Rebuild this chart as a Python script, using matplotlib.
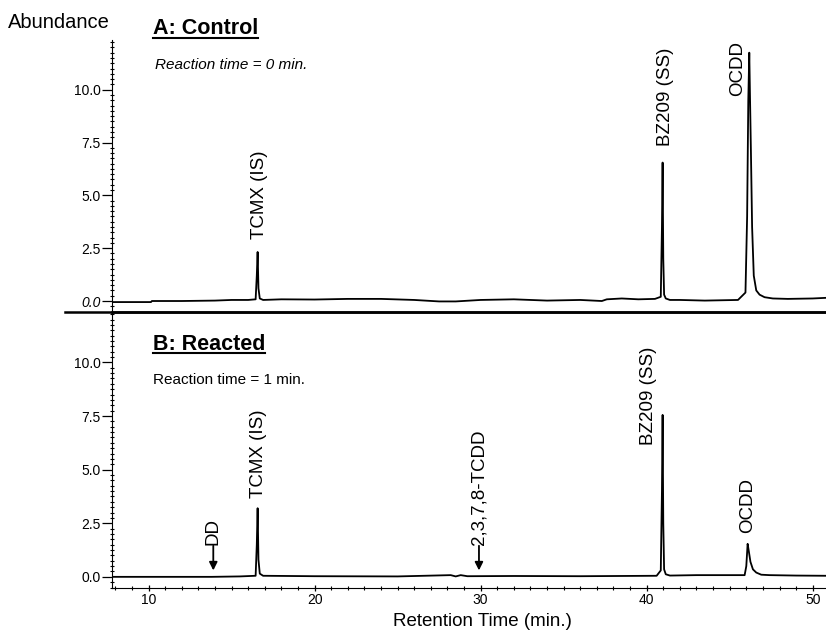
import numpy as np
import matplotlib
matplotlib.use("Agg")
import matplotlib.pyplot as plt
from matplotlib.lines import Line2D
from matplotlib.ticker import MultipleLocator

plt.rcParams['font.family'] = ['Liberation Sans', 'DejaVu Sans']

# chromatogram A (control, 0 min), retention time (min) vs abundance
t_a = [7.85, 10.15, 10.2, 12, 14, 15, 16.0, 16.45, 16.52, 16.57, 16.62, 16.7, 16.9,
       18, 20, 22, 24, 26, 27.5, 28.5, 30, 32, 34, 36, 37.3, 37.6, 38.5, 39.5, 40.5,
       40.85, 40.92, 40.96, 41.0, 41.05, 41.15, 41.4, 42, 43.5, 45.5, 45.95, 46.05,
       46.12, 46.18, 46.22, 46.28, 46.35, 46.45, 46.6, 46.8, 47.1, 47.6, 48.5, 50, 50.8]
y_a = [-0.05, -0.05, 0.0, 0.0, 0.02, 0.05, 0.05, 0.08, 1.2, 2.32, 0.6, 0.12, 0.05,
       0.08, 0.07, 0.1, 0.1, 0.05, -0.02, -0.02, 0.05, 0.08, 0.02, 0.05, 0.0, 0.08,
       0.12, 0.08, 0.1, 0.2, 3.5, 6.55, 2.0, 0.3, 0.12, 0.05, 0.05, 0.02, 0.05, 0.4,
       4.0, 9.5, 11.75, 9.8, 7.0, 3.5, 1.2, 0.5, 0.3, 0.18, 0.12, 0.1, 0.12, 0.15]

# chromatogram B (reacted, 1 min)
t_b = [7.85, 13.8, 15.5, 16.45, 16.52, 16.57, 16.62, 16.7, 16.9, 20, 25, 28.2, 28.5,
       28.8, 29.2, 32, 36, 40.6, 40.85, 40.92, 40.96, 41.0, 41.05, 41.15, 41.4, 43,
       45.9, 46.0, 46.08, 46.15, 46.25, 46.4, 46.6, 46.9, 47.4, 49, 50.8]
y_b = [0.0, 0.0, 0.02, 0.05, 1.5, 3.2, 0.8, 0.15, 0.05, 0.03, 0.02, 0.08, 0.02,
       0.08, 0.03, 0.04, 0.03, 0.05, 0.3, 4.0, 7.55, 2.5, 0.35, 0.12, 0.06, 0.08,
       0.08, 0.5, 1.54, 1.2, 0.7, 0.35, 0.2, 0.1, 0.08, 0.06, 0.05]

# peak labels: (text, x, y bottom)
labels_a = [("TCMX (IS)", 16.7, 2.95), ("BZ209 (SS)", 41.15, 7.35), ("OCDD", 45.5, 9.7)]
labels_b = [("TCMX (IS)", 16.6, 3.7), ("BZ209 (SS)", 40.1, 6.15), ("OCDD", 46.1, 2.05)]
arrows_b = [("DD", 13.9, 1.5), ("2,3,7,8-TCDD", 29.9, 1.5)]

yticks = [0, 2.5, 5, 7.5, 10]
xticks = [10, 20, 30, 40, 50]

W, H = 826, 633
fig = plt.figure(figsize=(W / 100, H / 100), dpi=100)
left = 112 / W
ax_a = fig.add_axes([left, 1 - 312 / H, 1 - left, 272 / H])
ax_b = fig.add_axes([left, 1 - 588 / H, 1 - left, 276 / H])

for ax, t, y in [(ax_a, t_a, y_a), (ax_b, t_b, y_b)]:
    ax.plot(t, y, color='black', lw=1.3)
    ax.set_xlim(7.8, 50.8)
    ax.set_ylim(-0.52, 12.35)
    ax.spines['top'].set_visible(False)
    ax.spines['right'].set_visible(False)
    ax.set_yticks(yticks)
    ax.set_yticklabels(["%.1f" % v for v in yticks])
    ax.yaxis.set_minor_locator(MultipleLocator(0.25))
    ax.xaxis.set_minor_locator(MultipleLocator(1))
    ax.set_xticks(xticks)
    ax.tick_params(axis='y', which='major', length=7, width=0.9, labelsize=10, pad=1)
    ax.tick_params(axis='y', which='minor', length=3, width=0.8, direction='inout')
    ax.tick_params(axis='x', which='major', length=5, width=0.9, labelsize=10, pad=1,
                   direction='inout')
    ax.tick_params(axis='x', which='minor', length=3, width=0.8, direction='inout')
    ax.patch.set_visible(False)

ax_a.spines['bottom'].set_linewidth(1.8)
ax_a.tick_params(axis='x', which='both', bottom=False, labelbottom=False)
ax_b.spines['top'].set_visible(False)
for lbl in ax_a.get_yticklabels()[:1]:
    lbl.set_style('italic')

for txt, x, yb in labels_a:
    ax_a.text(x, yb, txt, rotation=90, ha='center', va='bottom', fontsize=13.5)
for txt, x, yb in labels_b:
    ax_b.text(x, yb, txt, rotation=90, ha='center', va='bottom', fontsize=13.5)
for txt, x, yb in arrows_b:
    ax_b.annotate('', xy=(x, 0.3), xytext=(x, yb - 0.05),
                  arrowprops=dict(arrowstyle='-|>', color='black', lw=1.3,
                                  mutation_scale=12, shrinkA=0, shrinkB=0))
    ax_b.text(x, yb, txt, rotation=90, ha='center', va='bottom', fontsize=13.5)

# separator line between panels reaching past the axis
fig.add_artist(Line2D([65 / W, 1], [1 - 312 / H] * 2, color='black', lw=1.8,
                      transform=fig.transFigure))

fig.text(8 / W, 1 - 22 / H, "Abundance", fontsize=14.5, va='center', ha='left')
ta = fig.text(153 / W, 1 - 29 / H, "A: Control", fontsize=15.5, weight='bold', va='center')
tb = fig.text(153 / W, 1 - 344 / H, "B: Reacted", fontsize=15.5, weight='bold', va='center')
fig.text(155 / W, 1 - 65 / H, "Reaction time = 0 min.", fontsize=11, style='italic',
         va='center')
fig.text(153 / W, 1 - 380 / H, "Reaction time = 1 min.", fontsize=11, va='center')
fig.text(482 / W, 1 - 622 / H, "Retention Time (min.)", fontsize=13.5, ha='center',
         va='center')

# underline the panel titles
fig.canvas.draw()
r = fig.canvas.get_renderer()
for t in (ta, tb):
    bb = t.get_window_extent(r).transformed(fig.transFigure.inverted())
    fig.add_artist(Line2D([bb.x0, bb.x1], [bb.y0 + 0.002] * 2, color='black', lw=1.5,
                          transform=fig.transFigure))

fig.savefig("out.png", dpi=100)
plt.close(fig)
